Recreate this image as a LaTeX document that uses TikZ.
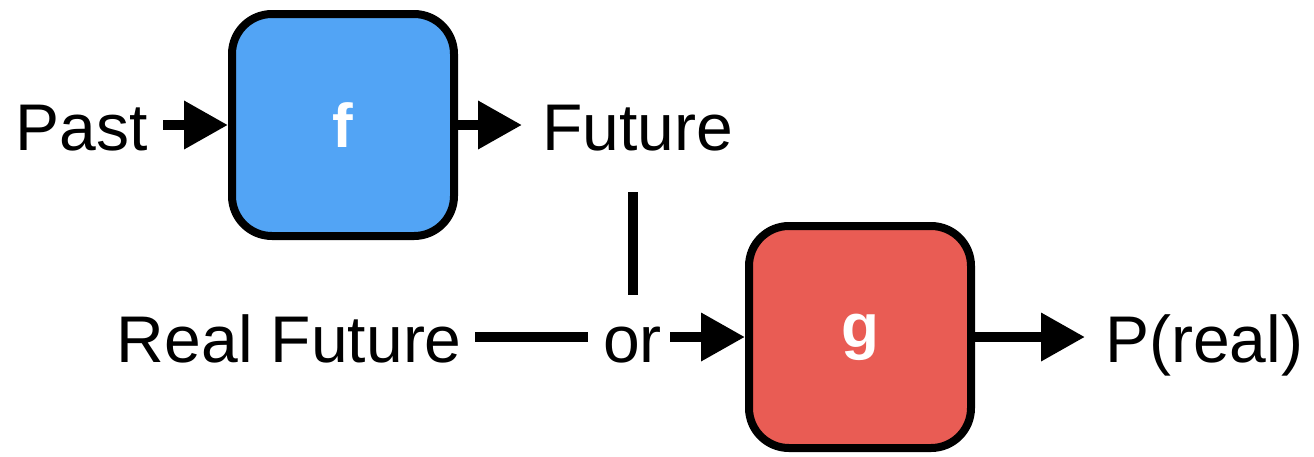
\documentclass[tikz,border=0pt]{standalone}
\usepackage{fontspec}
\setmainfont{Liberation Sans}
\usetikzlibrary{arrows.meta,shadows}
\definecolor{fblue}{RGB}{82,164,245}
\definecolor{gred}{RGB}{233,92,84}
\begin{document}
\begin{tikzpicture}[x=1pt,y=-1pt,
  lbl/.style={inner sep=0pt,text height=45pt,text depth=0pt,font=\fontsize{66}{70}\selectfont},
  fnbox/.style={draw=black,line width=8pt,rounded corners=40pt,minimum width=222pt,minimum height=222pt,
     inner sep=0pt,text=white,font=\fontsize{62}{66}\selectfont\bfseries,
     drop shadow={shadow xshift=0pt,shadow yshift=-3pt,opacity=0.35}},
  conn/.style={line width=10pt},
  arr/.style={line width=10pt,-{Triangle[length=44pt 0 0,width=46pt 0 0]}}]
\useasboundingbox (0,0) rectangle (1314,456);
\node[fnbox,fill=fblue] (f) at (343,125) {f};
\node[fnbox,fill=gred] (g) at (860,337) {g};
\node[lbl,anchor=east] (past) at (148,127.5) {Past};
\node[lbl,anchor=west] (future) at (542,127.5) {Future};
\node[lbl,anchor=east] (real) at (462,340) {Real Future};
\node[lbl] (or) at (632.5,340) {or};
\node[lbl,anchor=west] (pr) at (1105,340) {P(real)};
\draw[arr,shorten <=15pt] (past.east |- f) -- (f);
\draw[arr,shorten >=20pt] (f) -- (future.west |- f);
\draw[conn,shorten <=13pt,shorten >=15pt] (real.east |- g) -- (or.west |- g);
\draw[arr,shorten <=8pt] (or.east |- g) -- (g);
\draw[arr,shorten >=20pt] (g) -- (pr.west |- g);
\draw[conn,shorten <=42pt,shorten >=22.5pt] (future.south -| or.north) -- (or.north);
\end{tikzpicture}
\end{document}
